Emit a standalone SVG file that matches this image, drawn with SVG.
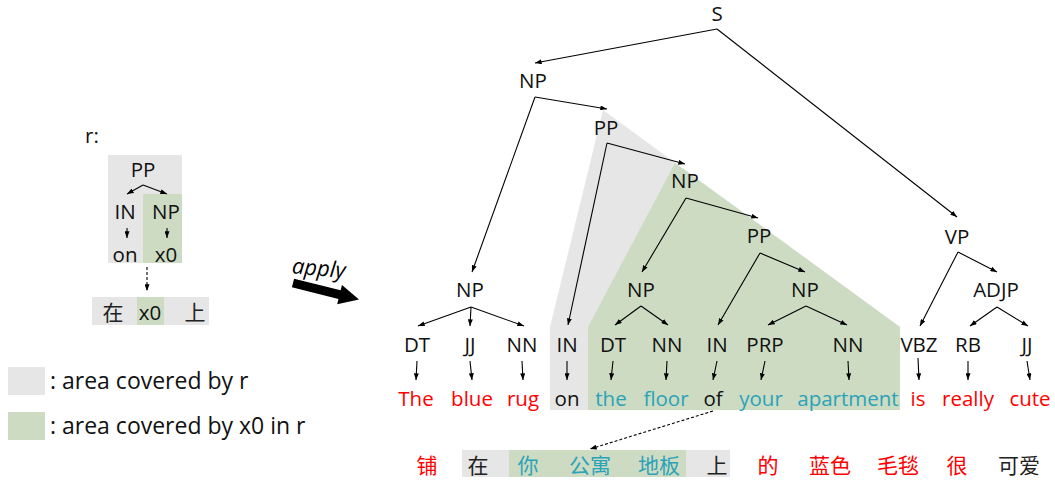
<svg xmlns="http://www.w3.org/2000/svg" width="1055" height="483" viewBox="0 0 1055 483">
  <defs>
    <marker id="ah" viewBox="0 0 8 6" refX="8" refY="3" markerWidth="7" markerHeight="5" markerUnits="userSpaceOnUse" orient="auto">
      <path d="M0,0 L8,3 L0,6 z" fill="#000"/>
    </marker>
    <style>
      .t { font-family: "Open Sans", "Liberation Sans", sans-serif; font-size: 20.5px; fill: #111; text-anchor: middle; }
      .cjk { font-family: "Noto Sans CJK SC", sans-serif; font-size: 21px; text-anchor: middle; fill: #222; }
      .red { fill: #ff0000; }
      .teal { fill: #2aa3b8; }
      .leg { font-family: "Open Sans", "Liberation Sans", sans-serif; font-size: 23px; fill: #111; }
      .e { stroke: #000; stroke-width: 1.1; fill: none; marker-end: url(#ah); }
      .d { stroke: #000; stroke-width: 1.1; fill: none; stroke-dasharray: 3 2; marker-end: url(#ah); }
      .gray { fill: #e6e6e6; }
      .green { fill: #cddbc3; }
    </style>
  </defs>

  <!-- rule r -->
  <g id="rule">
    <text class="t" x="92" y="143">r:</text>
    <rect class="gray" x="108" y="155" width="74" height="108"/>
    <rect class="green" x="143" y="194" width="39" height="69"/>
    <text class="t" x="143" y="177">PP</text>
    <text class="t" x="125" y="219">IN</text>
    <text class="t" x="166" y="219">NP</text>
    <text class="t" x="125" y="262">on</text>
    <text class="t" x="166" y="262">x0</text>
    <path class="e" d="M143,185 L127,194"/>
    <path class="e" d="M143,185 L167,194"/>
    <path class="e" d="M127,228 L127,238"/>
    <path class="e" d="M167,228 L167,238"/>
    <path class="d" d="M147,267 L147,291"/>
    <rect class="gray" x="92" y="297" width="117" height="28"/>
    <rect class="green" x="137" y="297" width="27" height="28"/>
    <text class="cjk" x="113" y="320">在</text>
    <text class="t" x="150" y="320">x0</text>
    <text class="cjk" x="195" y="320">上</text>
  </g>

  <!-- legend -->
  <g id="legend">
    <rect class="gray" x="8" y="367" width="37" height="28"/>
    <text class="leg" x="50" y="389">: area covered by r</text>
    <rect class="green" x="8" y="412" width="37" height="28"/>
    <text class="leg" x="50" y="434">: area covered by x0 in r</text>
  </g>

  <!-- apply arrow -->
  <g id="apply">
    <text x="292" y="276" transform="rotate(5 322 268)" style="font-family: 'Open Sans', 'Liberation Sans', sans-serif; font-size: 22px; font-style: italic; fill: #000;">apply</text>
    <polygon transform="translate(293,283) rotate(14)" points="0,-4.5 48,-4.5 48,-10 68,0 48,10 48,4.5 0,4.5" fill="#000"/>
  </g>

  <!-- covered areas -->
  <g id="areas">
    <polygon class="gray" points="603,110 900,327 900,410 550,410 550,327"/>
    <polygon class="green" points="675,163 900,327 900,410 588,410 588,327"/>
  </g>

  <!-- connectors -->
  <g id="connectors">
    <path class="e" d="M717,29 L535,63"/>
    <path class="e" d="M717,29 L957,217"/>
    <path class="e" d="M535,97 L607,109"/>
    <path class="e" d="M535,97 L472,272"/>
    <path class="e" d="M607,143 L685,164"/>
    <path class="e" d="M607,143 L568,325"/>
    <path class="e" d="M686,198 L758,218"/>
    <path class="e" d="M686,198 L642,272"/>
    <path class="e" d="M760,253 L805,272"/>
    <path class="e" d="M760,253 L718,325"/>
    <path class="e" d="M641,306 L615,325"/>
    <path class="e" d="M641,306 L668,325"/>
    <path class="e" d="M806,306 L768,325"/>
    <path class="e" d="M806,306 L847,325"/>
    <path class="e" d="M471,307 L418,326"/>
    <path class="e" d="M471,307 L470,326"/>
    <path class="e" d="M471,307 L524,326"/>
    <path class="e" d="M958,252 L997,272"/>
    <path class="e" d="M958,252 L920,326"/>
    <path class="e" d="M997,307 L970,326"/>
    <path class="e" d="M997,307 L1028,326"/>
    <!-- tag to word -->
    <path class="e" d="M417,361 L416,380"/>
    <path class="e" d="M470,361 L472,380"/>
    <path class="e" d="M522,361 L523,380"/>
    <path class="e" d="M567,361 L567,380"/>
    <path class="e" d="M613,361 L611,380"/>
    <path class="e" d="M667,361 L666,380"/>
    <path class="e" d="M717,361 L713,380"/>
    <path class="e" d="M765,361 L761,380"/>
    <path class="e" d="M848,361 L849,380"/>
    <path class="e" d="M918,358 L919,380"/>
    <path class="e" d="M968,361 L968,380"/>
    <path class="e" d="M1027,361 L1030,380"/>
    <path class="d" d="M713,411 L590,449"/>
  </g>

  <!-- inner nodes -->
  <g id="n-S"><text class="t" x="717" y="21">S</text></g>
  <g id="n-NP1"><text class="t" x="533" y="88">NP</text></g>
  <g id="n-PP1"><text class="t" x="606" y="135">PP</text></g>
  <g id="n-NP3"><text class="t" x="685" y="188">NP</text></g>
  <g id="n-PP2"><text class="t" x="759" y="243">PP</text></g>
  <g id="n-NP2"><text class="t" x="470" y="297">NP</text></g>
  <g id="n-NP4"><text class="t" x="641" y="297">NP</text></g>
  <g id="n-NP5"><text class="t" x="805" y="297">NP</text></g>
  <g id="n-VP"><text class="t" x="957" y="244">VP</text></g>
  <g id="n-ADJP"><text class="t" x="996" y="297">ADJP</text></g>

  <!-- POS tags -->
  <g id="tags">
    <text class="t" x="417" y="352">DT</text>
    <text class="t" x="470" y="352">JJ</text>
    <text class="t" x="522" y="352">NN</text>
    <text class="t" x="567" y="352">IN</text>
    <text class="t" x="613" y="352">DT</text>
    <text class="t" x="667" y="352">NN</text>
    <text class="t" x="717" y="352">IN</text>
    <text class="t" x="765" y="352">PRP</text>
    <text class="t" x="848" y="352">NN</text>
    <text class="t" x="919" y="352">VBZ</text>
    <text class="t" x="968" y="352">RB</text>
    <text class="t" x="1027" y="352">JJ</text>
  </g>

  <!-- English words -->
  <g id="words">
    <text class="t red" x="416" y="406">The</text>
    <text class="t red" x="472" y="406">blue</text>
    <text class="t red" x="523" y="406">rug</text>
    <text class="t" x="567" y="406">on</text>
    <text class="t teal" x="611" y="406">the</text>
    <text class="t teal" x="666" y="406">floor</text>
    <text class="t" x="713" y="406">of</text>
    <text class="t teal" x="761" y="406">your</text>
    <text class="t teal" x="848" y="406">apartment</text>
    <text class="t red" x="918" y="406">is</text>
    <text class="t red" x="968" y="406">really</text>
    <text class="t red" x="1030" y="406">cute</text>
  </g>

  <!-- Chinese translation -->
  <g id="translation">
    <rect class="gray" x="462" y="450" width="268" height="27"/>
    <rect class="green" x="509" y="450" width="177" height="27"/>
    <text class="cjk red" x="427" y="473">铺</text>
    <text class="cjk" x="478" y="473">在</text>
    <text class="cjk teal" x="528" y="473">你</text>
    <text class="cjk teal" x="590" y="473">公寓</text>
    <text class="cjk teal" x="659" y="473">地板</text>
    <text class="cjk" x="717" y="473">上</text>
    <text class="cjk red" x="768" y="473">的</text>
    <text class="cjk red" x="830" y="473">蓝色</text>
    <text class="cjk red" x="898" y="473">毛毯</text>
    <text class="cjk red" x="957" y="473">很</text>
    <text class="cjk" x="1019" y="473">可爱</text>
  </g>
</svg>
